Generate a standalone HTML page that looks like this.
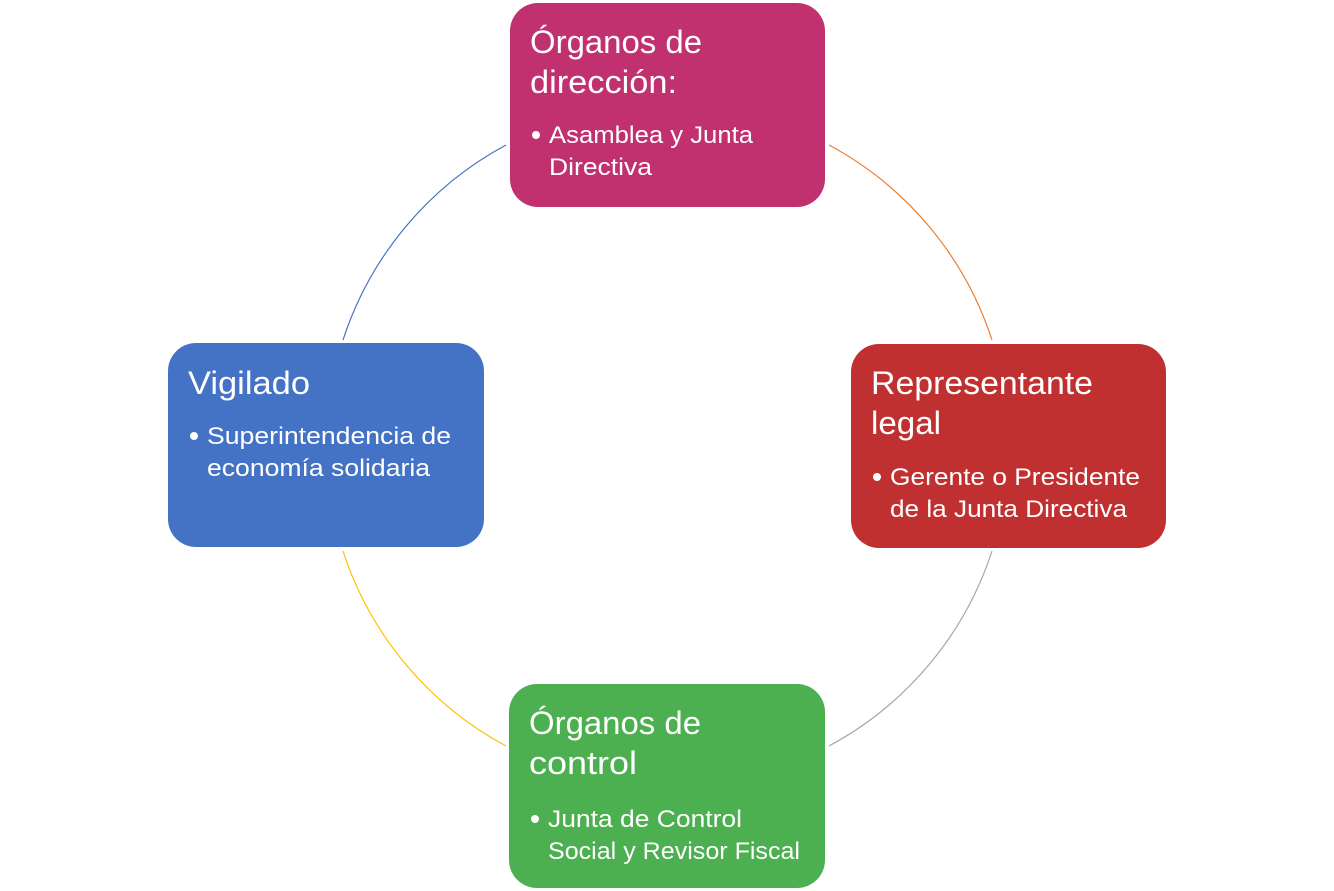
<!DOCTYPE html>
<html><head><meta charset="utf-8"><style>html,body{margin:0;padding:0;background:#fff}svg{display:block}</style></head>
<body>
<svg width="1334" height="891" viewBox="0 0 1334 891" xmlns="http://www.w3.org/2000/svg" font-family="Liberation Sans, sans-serif" fill="#fff">
<g fill="none" stroke-width="1.2">
<path d="M506,145 A341,341 0 0 0 343,340" stroke="#4472C4"/>
<path d="M829,145 A341,341 0 0 1 992,340" stroke="#ED7D31"/>
<path d="M992,551 A341,341 0 0 1 829,746" stroke="#A5A5A5"/>
<path d="M343,551 A341,341 0 0 0 506,746" stroke="#FFC000"/>
</g>
<rect x="510" y="3" width="315" height="204" rx="28" fill="#C1306F"/>
<rect x="851" y="344" width="315" height="204" rx="28" fill="#C13030"/>
<rect x="509" y="684" width="316" height="204" rx="28" fill="#4CB050"/>
<rect x="168" y="343" width="316" height="204" rx="28" fill="#4472C4"/>
<g font-size="32">
<text x="530" y="53" textLength="172" lengthAdjust="spacingAndGlyphs">Órganos de</text>
<text x="530" y="93" textLength="147" lengthAdjust="spacingAndGlyphs">dirección:</text>
<text x="871" y="394" textLength="222" lengthAdjust="spacingAndGlyphs">Representante</text>
<text x="871" y="434" textLength="70" lengthAdjust="spacingAndGlyphs">legal</text>
<text x="529" y="734" textLength="172" lengthAdjust="spacingAndGlyphs">Órganos de</text>
<text x="529" y="774" textLength="108" lengthAdjust="spacingAndGlyphs">control</text>
<text x="188" y="394" textLength="122" lengthAdjust="spacingAndGlyphs">Vigilado</text>
</g>
<g>
<circle cx="536" cy="135" r="4"/>
<circle cx="877" cy="477" r="4"/>
<circle cx="535" cy="819" r="4"/>
<circle cx="194" cy="436" r="4"/>
</g>
<g font-size="24">
<text x="549" y="143" textLength="204" lengthAdjust="spacingAndGlyphs">Asamblea y Junta</text>
<text x="549" y="175" textLength="103" lengthAdjust="spacingAndGlyphs">Directiva</text>
<text x="890" y="485" textLength="250" lengthAdjust="spacingAndGlyphs">Gerente o Presidente</text>
<text x="890" y="517" textLength="237" lengthAdjust="spacingAndGlyphs">de la Junta Directiva</text>
<text x="548" y="827" textLength="194" lengthAdjust="spacingAndGlyphs">Junta de Control</text>
<text x="548" y="859" textLength="252" lengthAdjust="spacingAndGlyphs">Social y Revisor Fiscal</text>
<text x="207" y="444" textLength="244" lengthAdjust="spacingAndGlyphs">Superintendencia de</text>
<text x="207" y="476" textLength="223" lengthAdjust="spacingAndGlyphs">economía solidaria</text>
</g>
</svg>
</body></html>
